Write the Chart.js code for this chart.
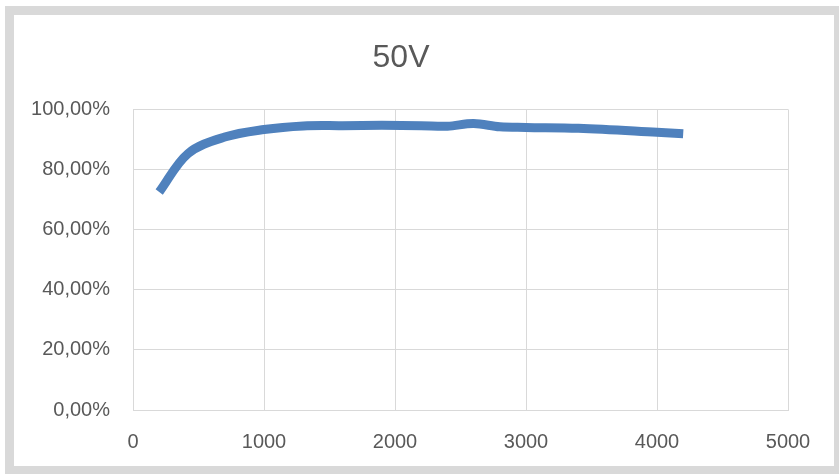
<!DOCTYPE html>
<html lang="es">
<head>
    <meta charset="UTF-8">
    <title>50V</title>
    <script src="https://cdn.jsdelivr.net/npm/chart.js"></script>
    <style>
        html, body { margin: 0; padding: 0; background: white; overflow: hidden; }
        .marco { position: absolute; left: 5px; top: 6px; width: 820px; height: 451px; border: 9px solid #d9d9d9; background: white; }
        canvas { display: block; }
    </style>
</head>
<body>
    <div class="marco">
        <canvas id="grafico" width="820" height="451"></canvas>
    </div>

    <script>
        // potencia (x) y eficiencia en % (y)
        const potencia = [200, 420, 700, 1000, 1300, 1600, 1900, 2200, 2400, 2600, 2800, 3000, 3400, 4000, 4200];
        const eficiencia = [72.5, 85.3, 90.8, 93.3, 94.5, 94.6, 94.7, 94.6, 94.4, 95.3, 94.2, 94.0, 93.7, 92.4, 91.9];
        const titulo = '50V';

        const puntos = potencia.map((p, i) => ({ x: p, y: eficiencia[i] }));
        const gris = '#595959';
        const fuenteEje = { family: "'Liberation Sans', sans-serif", size: 20 };

        let ctx = document.getElementById('grafico').getContext('2d');
        let chart = new Chart(ctx, {
            type: 'line',
            data: {
                datasets: [{
                    data: puntos,
                    borderColor: '#4f81bd',
                    borderWidth: 9,
                    pointRadius: 0,
                    fill: false,
                    tension: 0.35
                }]
            },
            options: {
                responsive: false,
                animation: false,
                layout: { padding: { left: 0, right: 46, top: 0, bottom: 0 } },
                plugins: {
                    legend: { display: false },
                    tooltip: { enabled: false },
                    title: {
                        display: true,
                        text: titulo,
                        color: gris,
                        font: { family: "'Liberation Sans', sans-serif", size: 32, weight: 'normal' },
                        padding: { top: 24, bottom: 32 }
                    }
                },
                scales: {
                    x: {
                        type: 'linear',
                        min: 0, max: 5000,
                        ticks: { stepSize: 1000, color: gris, font: fuenteEje, padding: 20, maxRotation: 0,
                                 callback: v => String(v) },
                        grid: { color: '#d9d9d9', drawTicks: false },
                        border: { color: '#d9d9d9' },
                        afterFit: s => { s.height = 56; }
                    },
                    y: {
                        min: 0, max: 100,
                        ticks: {
                            stepSize: 20, color: gris, font: fuenteEje, padding: 23,
                            callback: v => v.toFixed(2).replace('.', ',') + '%'
                        },
                        grid: { color: '#d9d9d9', drawTicks: false },
                        border: { color: '#d9d9d9' },
                        afterFit: s => { s.width = 119; }
                    }
                }
            }
        });
    </script>
</body>
</html>
